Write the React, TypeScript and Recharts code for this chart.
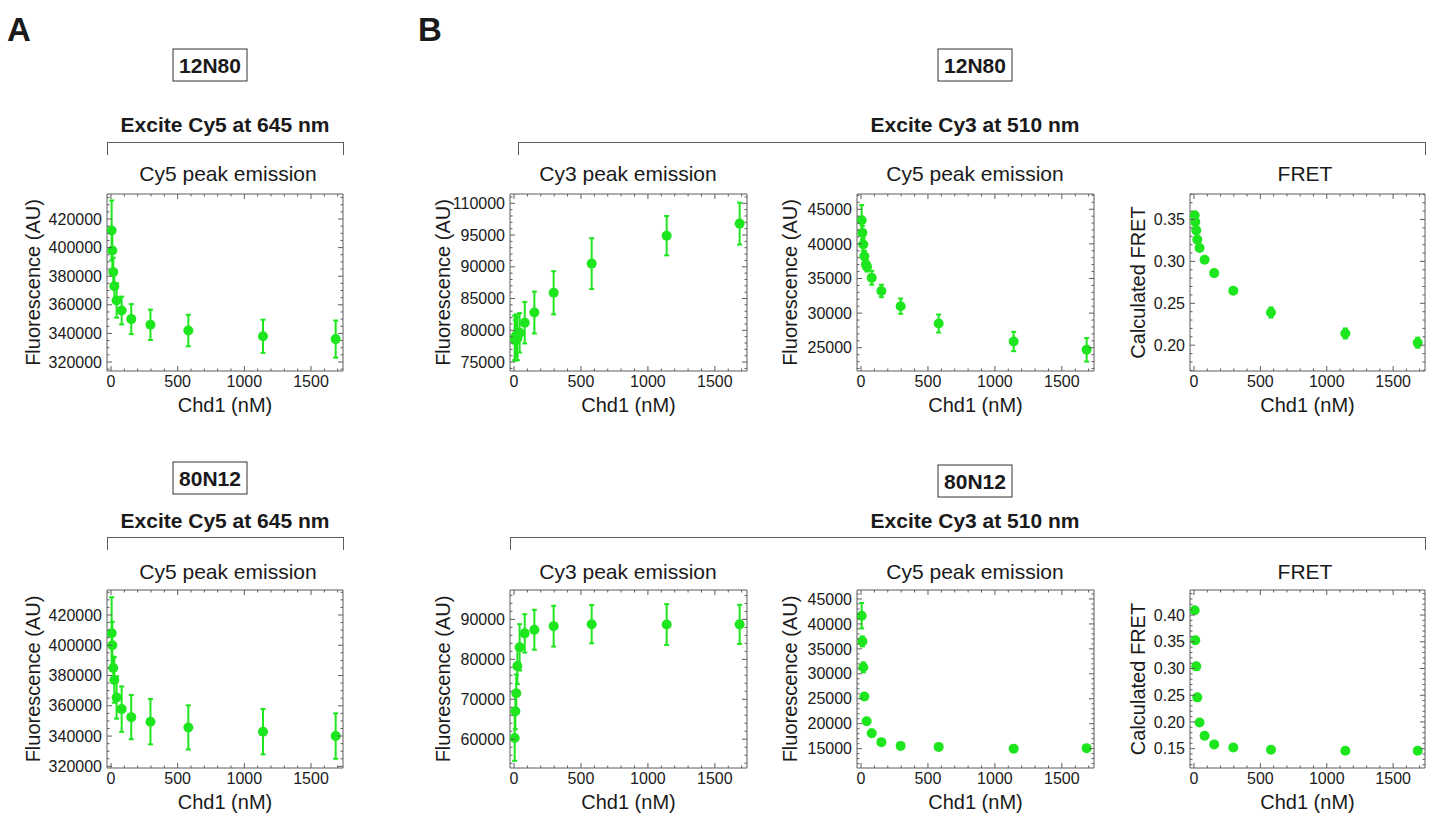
import React from 'react';
import { ScatterChart, Scatter, XAxis, YAxis, ErrorBar } from 'recharts';

// --- Data ---

// Chd1 concentrations (nM)
const conc = [5, 10, 17, 25, 42, 80, 152, 296, 580, 1140, 1685];
const concCy5Top = [5, 10, 17, 25, 37, 45, 80, 152, 296, 580, 1140, 1685];

// 12N80
const cy5Ex12N80 = [412000, 398000, 383000, 373000, 363000, 356000, 350000, 346000, 342000, 338000, 336000];
const cy5Ex12N80Err = [21000, 13000, 10000, 10000, 12000, 9700, 10500, 10600, 11000, 11600, 13000];
const cy3Em12N80 = [78800, 78400, 79200, 78700, 79600, 81200, 82800, 85900, 90500, 94900, 96800];
const cy3Em12N80Err = [3500, 3200, 3300, 3400, 3100, 3270, 3300, 3400, 4000, 3100, 3300];
const cy5Em12N80 = [43400, 41600, 39900, 38200, 37000, 36700, 35100, 33200, 31000, 28500, 25900, 24700];
const cy5Em12N80Err = [2200, 1000, 900, 800, 700, 700, 1000, 900, 1100, 1300, 1400, 1700];
const fret12N80 = [0.355, 0.347, 0.337, 0.326, 0.316, 0.302, 0.286, 0.265, 0.239, 0.214, 0.203];
const fret12N80Err = [0.004, 0.003, 0.003, 0.003, 0.003, 0.002, 0.002, 0.003, 0.006, 0.006, 0.006];

// 80N12
const cy5Ex80N12 = [408000, 400000, 385000, 377000, 365500, 357800, 352500, 349500, 345700, 342900, 340000];
const cy5Ex80N12Err = [23700, 15500, 7500, 15000, 14000, 15000, 14600, 15000, 14600, 15000, 15000];
const cy3Em80N12 = [60300, 67000, 71500, 78300, 83000, 86500, 87400, 88300, 88800, 88700, 88750];
const cy3Em80N12Err = [5700, 4500, 4700, 4500, 5800, 4800, 5000, 5100, 4800, 5100, 4900];
const cy5Em80N12 = [41650, 36500, 31300, 25450, 20500, 18100, 16300, 15550, 15350, 15000, 15100];
const cy5Em80N12Err = [2550, 1000, 1000, 700, 500, 700, 500, 400, 250, 300, 350];
const fret80N12 = [0.409, 0.353, 0.304, 0.246, 0.199, 0.174, 0.158, 0.152, 0.148, 0.146, 0.146];
const fret80N12Err = [0.006, 0.006, 0.006, 0.003, 0.002, 0.002, 0.002, 0.002, 0.002, 0.002, 0.002];

// Ticks
const xTicks = [0, 500, 1000, 1500];
const xTickLabels = ['0', '500', '1000', '1500'];
const yTicksA12 = [320000, 340000, 360000, 380000, 400000, 420000];
const yLabelsA12 = ['320000', '340000', '360000', '380000', '400000', '420000'];
const yTicksB12 = [75000, 80000, 85000, 90000, 95000, 100000];
const yLabelsB12 = ['75000', '80000', '85000', '90000', '95000', '110000'];
const yTicksC12 = [25000, 30000, 35000, 40000, 45000];
const yLabelsC12 = ['25000', '30000', '35000', '40000', '45000'];
const yTicksD12 = [0.2, 0.25, 0.3, 0.35];
const yLabelsD12 = ['0.20', '0.25', '0.30', '0.35'];
const yTicksA80 = [320000, 340000, 360000, 380000, 400000, 420000];
const yLabelsA80 = ['320000', '340000', '360000', '380000', '400000', '420000'];
const yTicksB80 = [60000, 70000, 80000, 90000];
const yLabelsB80 = ['60000', '70000', '80000', '90000'];
const yTicksC80 = [15000, 20000, 25000, 30000, 35000, 40000, 45000];
const yLabelsC80 = ['15000', '20000', '25000', '30000', '35000', '40000', '45000'];
const yTicksD80 = [0.15, 0.2, 0.25, 0.3, 0.35, 0.4];
const yLabelsD80 = ['0.15', '0.20', '0.25', '0.30', '0.35', '0.40'];

// --- Styling ---

const GREEN = '#1ee61e';
const FRAME = '#5c5c5c';
const TEXT = '#1a1a1a';
const FONT = '"Liberation Sans", Arial, Helvetica, sans-serif';
const X_DOMAIN: [number, number] = [-30, 1740];

const stepsBetween = (min: number, max: number, step: number) => {
    const out: number[] = [];
    for (let i = Math.ceil(min / step - 1e-9); i * step <= max + 1e-9; i++) {
        out.push(+(i * step).toFixed(6));
    }
    return out;
};

// frame tick marks drawn inward, longer on major values
const frameTick = (side: 'top' | 'bottom' | 'left' | 'right', majors: number[], step: number) => (props: any) => {
    const { x, y, payload } = props;
    const isMajor = majors.some((m) => Math.abs(m - payload.value) < step * 0.01);
    const len = isMajor ? 5 : 2.5;
    let x2 = x;
    let y2 = y;
    if (side === 'bottom') y2 = y - len;
    if (side === 'top') y2 = y + len;
    if (side === 'left') x2 = x + len;
    if (side === 'right') x2 = x - len;
    return <line x1={x} y1={y} x2={x2} y2={y2} stroke={FRAME} strokeWidth={1} />;
};

const Dot = (p: any) => <circle cx={p.cx} cy={p.cy} r={5} fill={GREEN} />;
const NoDot = () => <g />;

interface PanelProps {
    left: number;
    top: number;
    plotW: number;
    plotH: number;
    xs: number[];
    ys: number[];
    errs: number[];
    yDomain: [number, number];
    yTicks: number[];
    yLabels: string[];
    yMinor: number;
    yTitle: string;
    titleDist: number;
}

const Panel: React.FC<PanelProps> = ({ left, top, plotW, plotH, xs, ys, errs, yDomain, yTicks, yLabels, yMinor, yTitle, titleDist }) => {
    const yW = 100;
    const xH = 52;
    const rows = xs.map((x, i) => ({ x, y: ys[i], err: errs[i] }));
    const xMinorTicks = stepsBetween(X_DOMAIN[0], X_DOMAIN[1], 100);
    const yMinorTicks = stepsBetween(yDomain[0], yDomain[1], yMinor);
    const tickStyle = { fill: TEXT, fontSize: 16, fontFamily: FONT };
    const titleStyle = { fill: TEXT, fontSize: 20, fontFamily: FONT };

    return (
        <div style={{ position: 'absolute', left: left - yW, top: top - 1 }}>
            <ScatterChart width={yW + plotW + 2} height={1 + plotH + xH} margin={{ top: 1, right: 2, bottom: 0, left: 0 }}>
                <XAxis
                    xAxisId="x"
                    dataKey="x"
                    type="number"
                    domain={X_DOMAIN}
                    allowDataOverflow
                    ticks={xTicks}
                    interval={0}
                    tickFormatter={(v: number) => xTickLabels[xTicks.indexOf(v)] ?? ''}
                    tickSize={0}
                    tickMargin={5}
                    tickLine={false}
                    height={xH}
                    axisLine={{ stroke: FRAME }}
                    tick={tickStyle}
                    label={{ value: 'Chd1 (nM)', position: 'insideBottom', offset: 11, style: titleStyle }}
                />
                <XAxis
                    xAxisId="xb"
                    dataKey="x"
                    type="number"
                    domain={X_DOMAIN}
                    allowDataOverflow
                    ticks={xMinorTicks}
                    interval={0}
                    mirror
                    height={1}
                    tickSize={0}
                    tickMargin={0}
                    tickLine={false}
                    axisLine={false}
                    tick={frameTick('bottom', xTicks, 100)}
                />
                <XAxis
                    xAxisId="xt"
                    dataKey="x"
                    orientation="top"
                    type="number"
                    domain={X_DOMAIN}
                    allowDataOverflow
                    ticks={xMinorTicks}
                    interval={0}
                    mirror
                    height={1}
                    tickSize={0}
                    tickMargin={0}
                    tickLine={false}
                    axisLine={{ stroke: FRAME }}
                    tick={frameTick('top', xTicks, 100)}
                />
                <YAxis
                    yAxisId="y"
                    dataKey="y"
                    type="number"
                    domain={yDomain}
                    allowDataOverflow
                    ticks={yTicks}
                    interval={0}
                    tickFormatter={(v: number) => yLabels[yTicks.findIndex((t) => Math.abs(t - v) < yMinor * 0.01)] ?? ''}
                    tickSize={0}
                    tickMargin={5}
                    tickLine={false}
                    width={yW}
                    axisLine={{ stroke: FRAME }}
                    tick={tickStyle}
                    label={{
                        value: yTitle,
                        angle: -90,
                        position: 'insideLeft',
                        offset: yW - titleDist,
                        textAnchor: 'middle',
                        style: { ...titleStyle, textAnchor: 'middle' },
                    }}
                />
                <YAxis
                    yAxisId="yl"
                    dataKey="y"
                    type="number"
                    domain={yDomain}
                    allowDataOverflow
                    ticks={yMinorTicks}
                    interval={0}
                    mirror
                    width={1}
                    tickSize={0}
                    tickMargin={0}
                    tickLine={false}
                    axisLine={false}
                    tick={frameTick('left', yTicks, yMinor)}
                />
                <YAxis
                    yAxisId="yr"
                    dataKey="y"
                    orientation="right"
                    type="number"
                    domain={yDomain}
                    allowDataOverflow
                    ticks={yMinorTicks}
                    interval={0}
                    mirror
                    width={1}
                    tickSize={0}
                    tickMargin={0}
                    tickLine={false}
                    axisLine={{ stroke: FRAME }}
                    tick={frameTick('right', yTicks, yMinor)}
                />
                {/* invisible series so the frame axes get drawn */}
                <Scatter xAxisId="xb" yAxisId="yl" data={rows} dataKey="y" shape={NoDot} isAnimationActive={false} />
                <Scatter xAxisId="xt" yAxisId="yr" data={rows} dataKey="y" shape={NoDot} isAnimationActive={false} />
                <Scatter xAxisId="x" yAxisId="y" data={rows} dataKey="y" fill={GREEN} shape={Dot} isAnimationActive={false}>
                    <ErrorBar dataKey="err" direction="y" width={2.5} stroke={GREEN} strokeWidth={2} isAnimationActive={false} />
                </Scatter>
            </ScatterChart>
        </div>
    );
};

// --- Header pieces ---

const Centered: React.FC<{ x: number; y: number; size: number; bold?: boolean; children: React.ReactNode }> = ({ x, y, size, bold, children }) => (
    <div
        style={{
            position: 'absolute',
            left: x,
            top: y,
            transform: 'translate(-50%, -50%)',
            fontSize: size,
            fontWeight: bold ? 700 : 400,
            lineHeight: 1,
            whiteSpace: 'nowrap',
            color: TEXT,
        }}
    >
        {children}
    </div>
);

const Boxed: React.FC<{ x: number; y: number; children: React.ReactNode }> = ({ x, y, children }) => (
    <div
        style={{
            position: 'absolute',
            left: x,
            top: y,
            transform: 'translate(-50%, -50%)',
            width: 73,
            height: 31,
            border: '1px solid #333',
            display: 'flex',
            alignItems: 'center',
            justifyContent: 'center',
            fontSize: 21,
            fontWeight: 700,
            color: TEXT,
        }}
    >
        {children}
    </div>
);

const Bracket: React.FC<{ x1: number; x2: number; y: number }> = ({ x1, x2, y }) => (
    <div
        style={{
            position: 'absolute',
            left: x1,
            top: y,
            width: x2 - x1,
            height: 13,
            borderTop: `1px solid ${FRAME}`,
            borderLeft: `1px solid ${FRAME}`,
            borderRight: `1px solid ${FRAME}`,
            boxSizing: 'border-box',
        }}
    />
);

const COLS = [107, 510, 857, 1190];
const WIDTHS = [236, 237, 237, 235];
const ROWS = [194, 590];
const HEIGHTS = [177, 178];

export default function App() {
    return (
        <div style={{ position: 'absolute', left: 0, top: 0, width: 1432, height: 817, background: '#fff', fontFamily: FONT }}>
            <Centered x={19} y={29} size={33} bold>A</Centered>
            <Centered x={430} y={29} size={33} bold>B</Centered>

            {/* 12N80 */}
            <Boxed x={210} y={65}>12N80</Boxed>
            <Boxed x={975} y={65}>12N80</Boxed>
            <Centered x={225} y={124} size={21} bold>Excite Cy5 at 645 nm</Centered>
            <Centered x={975} y={124} size={21} bold>Excite Cy3 at 510 nm</Centered>
            <Bracket x1={107} x2={344} y={142} />
            <Bracket x1={518} x2={1426} y={142} />
            <Centered x={228} y={173} size={21}>Cy5 peak emission</Centered>
            <Centered x={628} y={173} size={21}>Cy3 peak emission</Centered>
            <Centered x={975} y={173} size={21}>Cy5 peak emission</Centered>
            <Centered x={1305} y={173} size={21}>FRET</Centered>

            {/* 80N12 */}
            <Boxed x={210} y={478}>80N12</Boxed>
            <Boxed x={975} y={481}>80N12</Boxed>
            <Centered x={225} y={520} size={21} bold>Excite Cy5 at 645 nm</Centered>
            <Centered x={975} y={520} size={21} bold>Excite Cy3 at 510 nm</Centered>
            <Bracket x1={107} x2={344} y={537} />
            <Bracket x1={510} x2={1426} y={537} />
            <Centered x={228} y={571} size={21}>Cy5 peak emission</Centered>
            <Centered x={628} y={571} size={21}>Cy3 peak emission</Centered>
            <Centered x={975} y={571} size={21}>Cy5 peak emission</Centered>
            <Centered x={1305} y={571} size={21}>FRET</Centered>

            <Panel left={COLS[0]} top={ROWS[0]} plotW={WIDTHS[0]} plotH={HEIGHTS[0]} xs={conc} ys={cy5Ex12N80} errs={cy5Ex12N80Err}
                yDomain={[313700, 437500]} yTicks={yTicksA12} yLabels={yLabelsA12} yMinor={5000} yTitle="Fluorescence (AU)" titleDist={74} />
            <Panel left={COLS[1]} top={ROWS[0]} plotW={WIDTHS[1]} plotH={HEIGHTS[0]} xs={conc} ys={cy3Em12N80} errs={cy3Em12N80Err}
                yDomain={[73590, 101460]} yTicks={yTicksB12} yLabels={yLabelsB12} yMinor={1000} yTitle="Fluorescence (AU)" titleDist={67} />
            <Panel left={COLS[2]} top={ROWS[0]} plotW={WIDTHS[2]} plotH={HEIGHTS[0]} xs={concCy5Top} ys={cy5Em12N80} errs={cy5Em12N80Err}
                yDomain={[21640, 47200]} yTicks={yTicksC12} yLabels={yLabelsC12} yMinor={1000} yTitle="Fluorescence (AU)" titleDist={67} />
            <Panel left={COLS[3]} top={ROWS[0]} plotW={WIDTHS[3]} plotH={HEIGHTS[0]} xs={conc} ys={fret12N80} errs={fret12N80Err}
                yDomain={[0.1692, 0.3804]} yTicks={yTicksD12} yLabels={yLabelsD12} yMinor={0.01} yTitle="Calculated FRET" titleDist={52} />

            <Panel left={COLS[0]} top={ROWS[1]} plotW={WIDTHS[0]} plotH={HEIGHTS[1]} xs={conc} ys={cy5Ex80N12} errs={cy5Ex80N12Err}
                yDomain={[318900, 436500]} yTicks={yTicksA80} yLabels={yLabelsA80} yMinor={5000} yTitle="Fluorescence (AU)" titleDist={74} />
            <Panel left={COLS[1]} top={ROWS[1]} plotW={WIDTHS[1]} plotH={HEIGHTS[1]} xs={conc} ys={cy3Em80N12} errs={cy3Em80N12Err}
                yDomain={[52800, 97350]} yTicks={yTicksB80} yLabels={yLabelsB80} yMinor={2000} yTitle="Fluorescence (AU)" titleDist={67} />
            <Panel left={COLS[2]} top={ROWS[1]} plotW={WIDTHS[2]} plotH={HEIGHTS[1]} xs={conc} ys={cy5Em80N12} errs={cy5Em80N12Err}
                yDomain={[11120, 46800]} yTicks={yTicksC80} yLabels={yLabelsC80} yMinor={1000} yTitle="Fluorescence (AU)" titleDist={67} />
            <Panel left={COLS[3]} top={ROWS[1]} plotW={WIDTHS[3]} plotH={HEIGHTS[1]} xs={conc} ys={fret80N12} errs={fret80N12Err}
                yDomain={[0.1138, 0.4469]} yTicks={yTicksD80} yLabels={yLabelsD80} yMinor={0.01} yTitle="Calculated FRET" titleDist={52} />
        </div>
    );
}
